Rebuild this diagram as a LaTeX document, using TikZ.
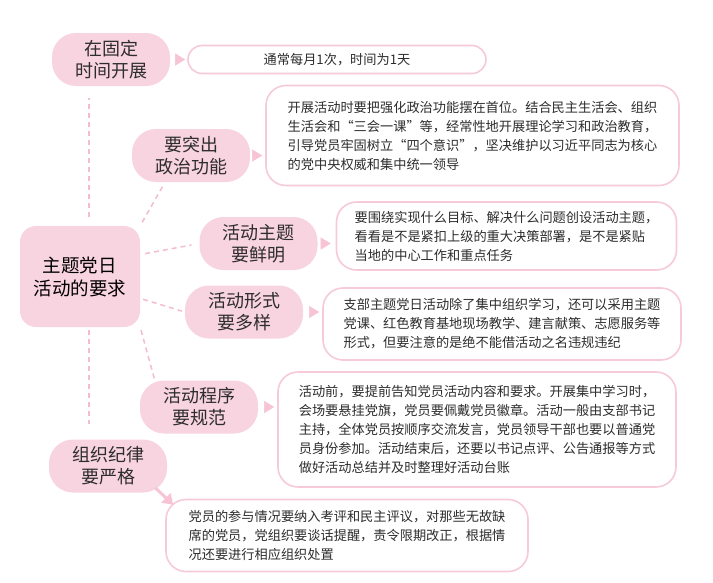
\documentclass[tikz,border=0pt]{standalone}
\usepackage{fontspec}
\setmainfont{Noto Sans CJK SC}
\usetikzlibrary{arrows.meta,positioning,calc}

\definecolor{lblpink}{RGB}{248,211,224}
\definecolor{edgepink}{RGB}{246,202,217}
\definecolor{dashpink}{RGB}{243,188,207}
\definecolor{tippink}{RGB}{247,196,214}
\definecolor{txtgray}{RGB}{45,45,45}

\begin{document}
\begin{tikzpicture}[x=1pt, y=-1pt,
  topic/.style={rectangle, fill=lblpink, rounded corners=24pt,
    minimum width=118pt, minimum height=53pt, align=center,
    inner sep=2pt, text=txtgray, font=\fontsize{18}{22}\selectfont},
  hub/.style={rectangle, fill=lblpink, rounded corners=16pt,
    minimum width=120pt, minimum height=101pt, align=center,
    text=black, font=\fontsize{18.5}{23}\selectfont},
  note/.style={rectangle, draw=edgepink, line width=1.6pt, fill=white,
    rounded corners=20pt, align=left, inner sep=0pt, text=txtgray,
    font=\fontsize{13.2}{19}\selectfont},
  dashlink/.style={dashpink, line width=1.5pt, dash pattern=on 5pt off 4pt},
  tiplink/.style={draw=white, line width=0.4pt,
    -{Triangle[length=10pt, width=12pt, color=tippink]}, shorten >=3pt},
  arr/.style={tippink, line width=3pt, -{Triangle[length=10pt, width=13pt]}},
]
  \useasboundingbox (0,0) rectangle (713,582);

  % centre and topics
  \node[hub] (main) at (80,276.5) {主题党日\\活动的要求};
  \node[topic] (t1) at (111,59.5) {在固定\\时间开展};
  \node[topic] (t2) at (191,155.5) {要突出\\政治功能};
  \node[topic] (t3) at (258.5,243.5) {活动主题\\要鲜明};
  \node[topic] (t4) at (244,312) {活动形式\\要多样};
  \node[topic] (t5) at (199,407) {活动程序\\要规范};
  \node[topic] (t6) at (108,466) {组织纪律\\要严格};

  % dashed links from the centre
  \draw[dashlink, shorten <=9pt, shorten >=12pt] ([xshift=9pt]main.north)
    -- ([xshift=9pt]main.north |- t1.south);
  \draw[dashlink, shorten <=3pt, shorten >=15pt] ([xshift=9pt]main.south)
    -- ([xshift=9pt]main.south |- t6.north);
  \draw[dashlink, shorten <=4pt, shorten >=3pt] (main.north east)
    -- ([xshift=-26pt]t2.south);
  \draw[dashlink, shorten <=5pt, shorten >=8pt] (main.20) -- (t3.west);
  \draw[dashlink, shorten <=3pt, shorten >=3pt] (main.-20) -- (t4.west);
  \draw[dashlink, shorten <=3pt, shorten >=2pt] (main.south east)
    -- ([xshift=15pt]t5.north west);

  % notes
  \node[note, right=17pt of t1, minimum width=298pt, minimum height=28pt,
    rounded corners=14pt, align=center] (b1) {通常每月1次，时间为1天};
  \node[note, right=15pt of t2, yshift=20pt, minimum width=413pt,
    minimum height=100pt] (b2)
    {开展活动时要把强化政治功能摆在首位。结合民主生活会、组织\\
     生活会和“三会一课”等，经常性地开展理论学习和政治教育，\\
     引导党员牢固树立“四个意识”，坚决维护以习近平同志为核心\\
     的党中央权威和集中统一领导};
  \node[note, right=18pt of t3, yshift=7.5pt, minimum width=340pt,
    minimum height=68pt] (b3)
    {要围绕实现什么目标、解决什么问题创设活动主题，\\
     看看是不是紧扣上级的重大决策部署，是不是紧贴\\
     当地的中心工作和重点任务};
  \node[note, right=19pt of t4, yshift=-12pt, minimum width=358pt,
    minimum height=72pt] (b4)
    {支部主题党日活动除了集中组织学习，还可以采用主题\\
     党课、红色教育基地现场教学、建言献策、志愿服务等\\
     形式，但要注意的是绝不能借活动之名违规违纪};
  \node[note, right=19pt of t5, yshift=-22.5pt, minimum width=398pt,
    minimum height=115pt] (b5)
    {活动前，要提前告知党员活动内容和要求。开展集中学习时，\\
     会场要悬挂党旗，党员要佩戴党员徽章。活动一般由支部书记\\
     主持，全体党员按顺序交流发言，党员领导干部也要以普通党\\
     员身份参加。活动结束后，还要以书记点评、公告通报等方式\\
     做好活动总结并及时整理好活动台账};
  \node[note, anchor=north west, minimum width=362pt, minimum height=72pt]
    (b6) at ([xshift=-2pt, yshift=-6pt]t6.south east)
    {党员的参与情况要纳入考评和民主评议，对那些无故缺\\
     席的党员，党组织要谈话提醒，责令限期改正，根据情\\
     况还要进行相应组织处置};

  % pointers
  \draw[tiplink, shorten >=2pt] (t1.east) -- (t1.east -| b1.west);
  \draw[tiplink] (t2.east) -- (t2.east -| b2.west);
  \draw[tiplink, shorten >=5pt] (t3.east) -- (t3.east -| b3.west);
  \draw[tiplink] (t4.east) -- (t4.east -| b4.west);
  \draw[tiplink] (t5.east) -- (t5.east -| b5.west);
  \draw[arr] ([xshift=-12pt, yshift=5pt]t6.south east)
    -- ([xshift=8pt, yshift=-6pt]b6.north west);
\end{tikzpicture}
\end{document}
